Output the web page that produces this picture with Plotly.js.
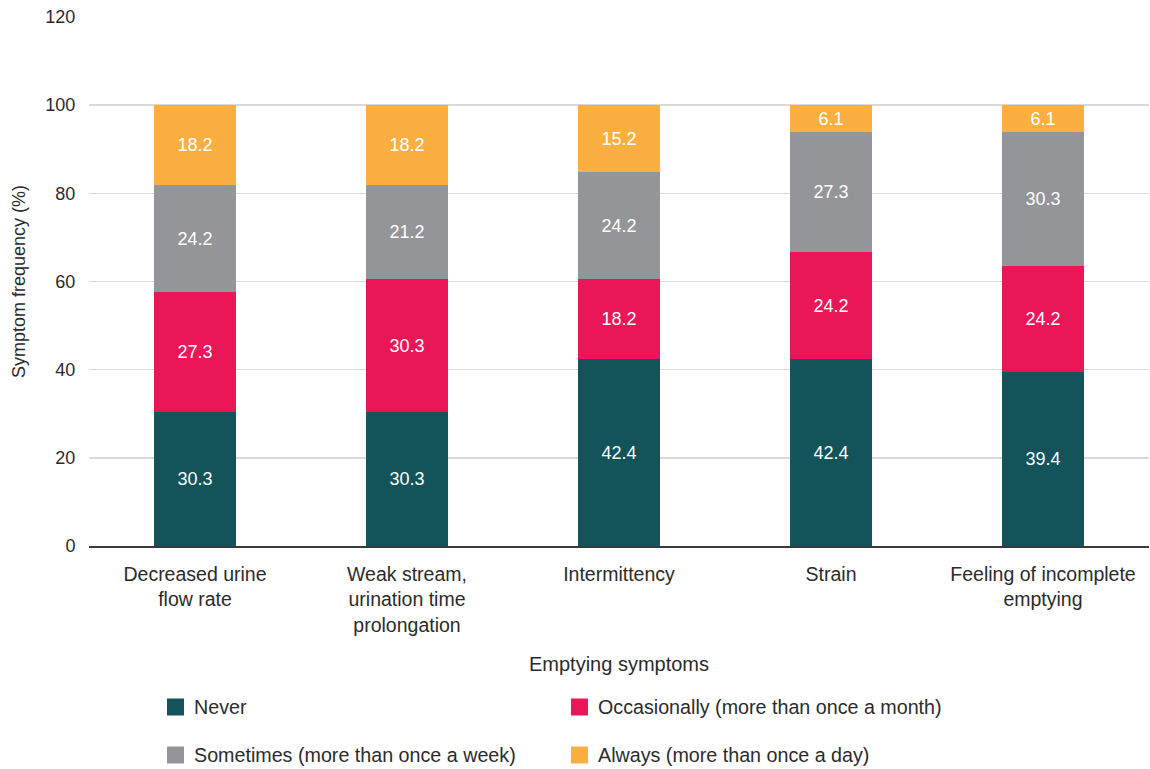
<!DOCTYPE html>
<html>
<head>
<meta charset="utf-8">
<script src="https://cdn.plot.ly/plotly-3.0.1.min.js"></script>
<style>html,body{margin:0;padding:0;background:#fff;}#chart{width:1150px;height:769px;}</style>
</head>
<body>
<div id="chart"></div>
<script>
const categories = [
  "Decreased urine<br>flow rate",
  "Weak stream,<br>urination time<br>prolongation",
  "Intermittency",
  "Strain",
  "Feeling of incomplete<br>emptying"
];
const seriesNames = [
  "Never",
  "Occasionally (more than once a month)",
  "Sometimes (more than once a week)",
  "Always (more than once a day)"
];
const never = [30.3, 30.3, 42.4, 42.4, 39.4];
const occasionally = [27.3, 30.3, 18.2, 24.2, 24.2];
const sometimes = [24.2, 21.2, 24.2, 27.3, 30.3];
const always = [18.2, 18.2, 15.2, 6.1, 6.1];
const yTicks = [0, 20, 40, 60, 80, 100, 120];

const colors = ["#12545A", "#EA1758", "#939598", "#FAAF40"];
const values = [never, occasionally, sometimes, always];
const FONT = "'Liberation Sans', Arial, sans-serif";
const TXT = "#2b2b2b";

const W = 1150, H = 769;
const M = {l: 89, r: 1, t: 17, b: 223};
const pw = W - M.l - M.r, ph = H - M.t - M.b;
const px2x = p => (p - M.l) / pw;
const px2y = p => (H - M.b - p) / ph;

const traces = values.map((v, i) => ({
  type: "bar",
  name: seriesNames[i],
  x: categories,
  y: v,
  marker: {color: colors[i], line: {width: 0}},
  text: v.map(d => d.toFixed(1)),
  texttemplate: "%{text}",
  textposition: "inside",
  insidetextanchor: "middle",
  textangle: 0,
  insidetextfont: {family: FONT, size: 18, color: "#ffffff"},
  hoverinfo: "skip",
  showlegend: false
}));

// manual legend (two columns, two rows)
const legPos = [[167, 707], [571, 707], [167, 755], [571, 755]];
const shapes = [];
const annotations = [];
seriesNames.forEach((n, i) => {
  const [lx, ly] = legPos[i];
  shapes.push({
    type: "rect", xref: "paper", yref: "paper",
    x0: px2x(lx), x1: px2x(lx + 17), y0: px2y(ly + 8.5), y1: px2y(ly - 8.5),
    fillcolor: colors[i], line: {width: 0}
  });
  annotations.push({
    xref: "paper", yref: "paper", x: px2x(lx + 25), y: px2y(ly),
    xanchor: "left", yanchor: "middle", showarrow: false,
    text: n, font: {family: FONT, size: 19.7, color: TXT}
  });
});

const layout = {
  width: W, height: H,
  margin: M,
  paper_bgcolor: "#ffffff", plot_bgcolor: "#ffffff",
  barmode: "stack",
  bargap: 0.613,
  font: {family: FONT, size: 19, color: TXT},
  uniformtext: {mode: false},
  xaxis: {
    type: "category",
    showgrid: false,
    showline: true, linecolor: "#3a3a3a", linewidth: 1.5,
    ticks: "outside", ticklen: 10, tickcolor: "rgba(0,0,0,0)",
    tickfont: {family: FONT, size: 19.5, color: TXT},
    title: {text: "Emptying symptoms", font: {family: FONT, size: 20, color: TXT}, standoff: 22},
    automargin: false,
    fixedrange: true
  },
  yaxis: {
    range: [0, 120],
    tickvals: yTicks,
    ticktext: yTicks.map(String),
    showgrid: true, gridcolor: "#d9d9d9", gridwidth: 1.5,
    zeroline: false,
    showline: false,
    ticks: "outside", ticklen: 9, tickcolor: "rgba(0,0,0,0)",
    tickfont: {family: FONT, size: 18, color: TXT},
    title: {text: "Symptom frequency (%)", font: {family: FONT, size: 18, color: TXT}, standoff: 15},
    automargin: false,
    fixedrange: true
  },
  shapes: shapes,
  annotations: annotations,
  showlegend: false
};

Plotly.newPlot("chart", traces, layout, {displayModeBar: false, staticPlot: true});
</script>
</body>
</html>
